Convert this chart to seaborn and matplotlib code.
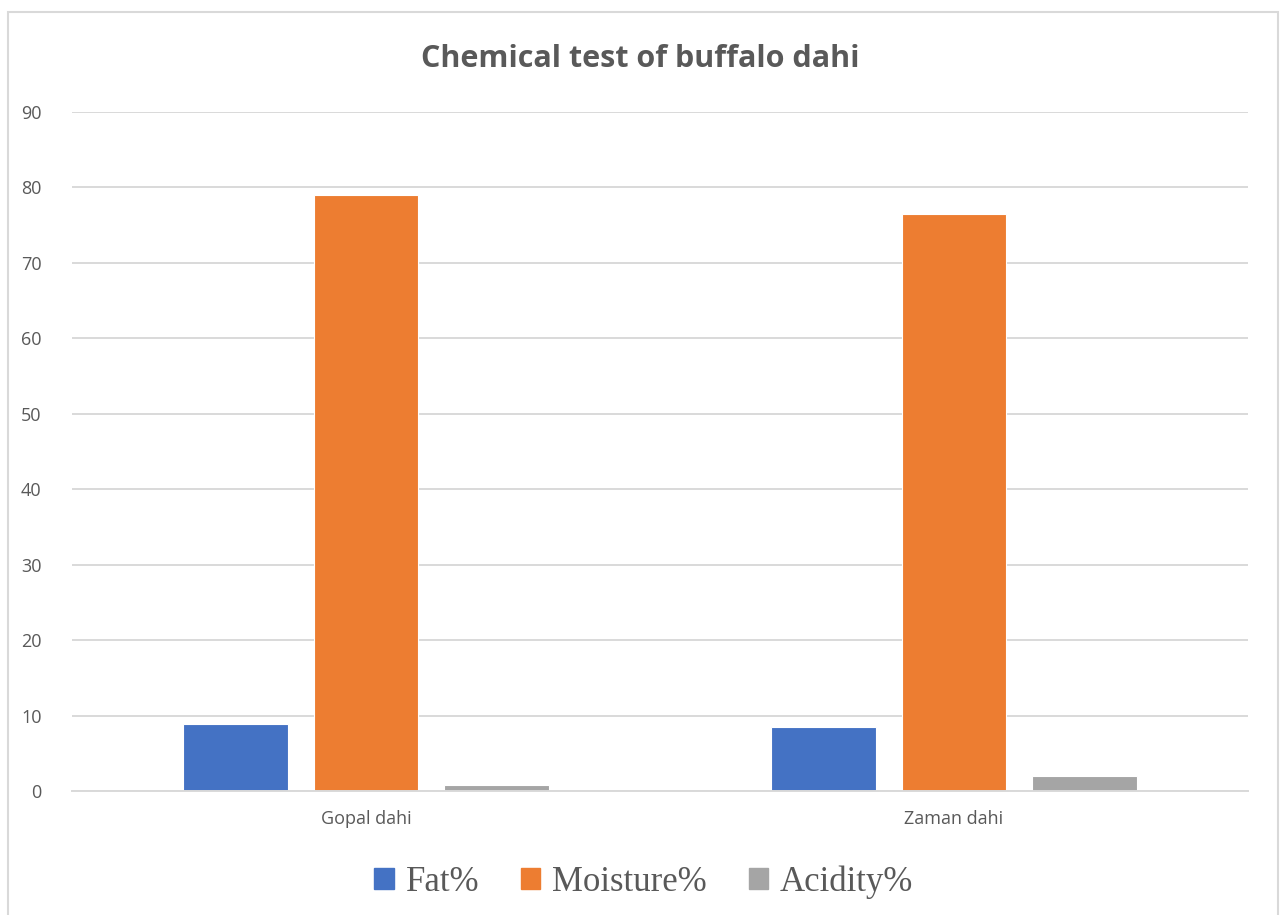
import pandas as pd
import matplotlib.pyplot as plt
import seaborn as sns
from matplotlib.patches import Rectangle, Patch

# data
samples = ["Gopal dahi", "Zaman dahi"]
fat = [8.9, 8.5]
moisture = [79.0, 76.5]
acidity = [0.8, 2.0]
series = ["Fat%", "Moisture%", "Acidity%"]
colors = ["#4472C4", "#ED7D31", "#A5A5A5"]

df = pd.DataFrame({"sample": samples, "Fat%": fat, "Moisture%": moisture, "Acidity%": acidity})
long = df.melt(id_vars="sample", var_name="test", value_name="value")

sns.set_theme(style="white")
plt.rcParams["font.family"] = ["Open Sans", "DejaVu Sans"]

fig = plt.figure(figsize=(12.8, 9.15), dpi=100)
ax = fig.add_axes([0.05625, 0.1355, 0.91875, 0.7421])

sns.barplot(data=long, x="sample", y="value", hue="test", hue_order=series,
            palette=colors, saturation=1, width=0.666, gap=0.2, ax=ax, legend=False,
            edgecolor="white", linewidth=0.8)

ax.set_xlim(-0.5, 1.5)
ax.set_ylim(0, 90)
ax.set_yticks(range(0, 91, 10))
ax.yaxis.grid(True, color="#D9D9D9", linewidth=1.4)
ax.set_axisbelow(True)
for s in ["top", "right", "left"]:
    ax.spines[s].set_visible(False)
ax.spines["bottom"].set_color("#D9D9D9")
ax.spines["bottom"].set_linewidth(1.4)
ax.set_xlabel("")
ax.set_ylabel("")
ax.tick_params(axis="y", colors="#595959", labelsize=13, length=0, pad=22)
ax.tick_params(axis="x", colors="#595959", labelsize=13, length=0, pad=14)

fig.text(0.5, 0.936, "Chemical test of buffalo dahi", ha="center", va="center",
         fontsize=22, fontweight="bold", color="#595959")

handles = [Patch(facecolor=c, edgecolor=c) for c in colors]
fig.legend(handles, series, loc="center", bbox_to_anchor=(0.503, 0.036), ncol=3,
           frameon=False, handlelength=0.55, handleheight=0.55, handletextpad=0.35,
           columnspacing=1.2,
           prop={"family": "Liberation Serif", "size": 25}, labelcolor="#595959")

# outer chart border
fig.add_artist(Rectangle((8 / 1280, -0.01), 1270 / 1280, 1 - 12 / 915 + 0.01,
                         transform=fig.transFigure, fill=False,
                         edgecolor="#D9D9D9", linewidth=1.5))

fig.savefig("out.png", dpi=100)
